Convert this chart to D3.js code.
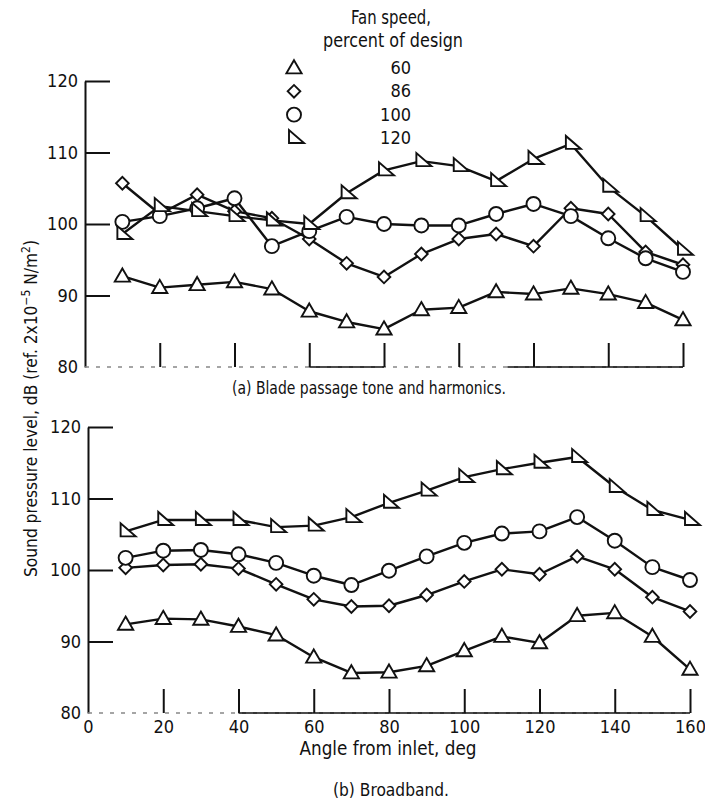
<!DOCTYPE html>
<html>
<head>
<meta charset="utf-8">
<script src="https://cdn.jsdelivr.net/npm/d3@7"></script>
<style>
  html, body { margin: 0; padding: 0; background: #fff; }
  svg text { font-family: "Liberation Sans Narrow", "DejaVu Sans Condensed", "Liberation Sans", sans-serif; fill: #111; }
</style>
</head>
<body>
<svg id="chart" width="705" height="803"></svg>
<script>
// ---------- data ----------
const angles = [10, 20, 30, 40, 50, 60, 70, 80, 90, 100, 110, 120, 130, 140, 150, 160];
const xTickValues = [0, 20, 40, 60, 80, 100, 120, 140, 160];
const yTickValues = [80, 90, 100, 110, 120];
const legendSpeeds = ["60", "86", "100", "120"];
const legendTitle = ["Fan speed,", "percent of design"];

// (a) Blade passage tone and harmonics
const toneSpeed60  = [92.7, 91.1, 91.5, 91.9, 90.9, 87.8, 86.3, 85.3, 88.0, 88.3, 90.5, 90.2, 91.0, 90.2, 89.0, 86.6];
const toneSpeed86  = [105.7, 101.4, 104.1, 101.8, 100.8, 97.9, 94.5, 92.6, 95.8, 97.9, 98.6, 96.9, 102.2, 101.4, 96.1, 94.3];
const toneSpeed100 = [100.3, 101.1, 102.2, 103.6, 96.9, 99.0, 101.0, 100.0, 99.8, 99.8, 101.4, 102.8, 101.1, 98.0, 95.2, 93.3];
const toneSpeed120 = [98.6, 102.5, 101.8, 101.1, 100.5, 100.0, 104.3, 107.5, 108.8, 108.1, 106.0, 109.1, 111.2, 105.2, 101.1, 96.4];

// (b) Broadband
const bbSpeed60  = [92.4, 93.2, 93.1, 92.1, 90.9, 87.8, 85.6, 85.7, 86.6, 88.7, 90.7, 89.8, 93.6, 94.0, 90.7, 86.1];
const bbSpeed86  = [100.3, 100.7, 100.8, 100.2, 98.0, 95.9, 94.9, 95.0, 96.5, 98.4, 100.1, 99.4, 101.9, 100.1, 96.2, 94.2];
const bbSpeed100 = [101.7, 102.7, 102.8, 102.2, 101.0, 99.2, 97.9, 99.9, 101.9, 103.8, 105.1, 105.4, 107.4, 104.1, 100.4, 98.6];
const bbSpeed120 = [105.4, 107.0, 107.0, 107.0, 106.0, 106.2, 107.4, 109.4, 111.1, 113.0, 114.1, 115.0, 115.8, 111.6, 108.4, 107.0];

const yLabel = "Sound pressure level, dB (ref. 2x10";
const xLabel = "Angle from inlet, deg";
const captionA = "(a) Blade passage tone and harmonics.";
const captionB = "(b) Broadband.";

// ---------- drawing ----------
const svg = d3.select("#chart");

const triPath = d3.symbol().type(d3.symbolTriangle).size(100)();
const diaPath = d3.symbol().type(d3.symbolSquare).size(80)();
const rightTriPath = "M-5,-8L-5,5L10,5Z";
const markerKinds = ["tri", "dia", "circ", "rtri"];

function drawMarker(g, kind, cx, cy) {
  const common = s => s.attr("fill", "#fff").attr("stroke", "#111").attr("stroke-width", 1.9);
  if (kind === "circ") {
    g.append("circle").attr("cx", cx).attr("cy", cy).attr("r", 7).call(common);
  } else if (kind === "dia") {
    g.append("path").attr("d", diaPath).attr("transform", `translate(${cx},${cy}) rotate(45)`).call(common);
  } else if (kind === "tri") {
    g.append("path").attr("d", triPath).attr("transform", `translate(${cx},${cy + 1})`).call(common);
  } else {
    g.append("path").attr("d", rightTriPath).attr("transform", `translate(${cx},${cy})`).call(common);
  }
}

function panel(cfg) {
  const x = d3.scaleLinear().domain([0, 160]).range(cfg.xRange);
  const y = d3.scaleLinear().domain([80, 120]).range(cfg.yRange);
  const g = svg.append("g");

  const yl = g.append("g").attr("transform", `translate(${cfg.xRange[0]},0)`)
    .call(d3.axisLeft(y).tickValues(yTickValues).tickSize(0).tickPadding(7));
  yl.select(".domain").attr("stroke", "#111").attr("stroke-width", 2);
  yl.selectAll("text").attr("font-size", 18).attr("font-family", "Liberation Sans Narrow, DejaVu Sans Condensed, sans-serif").attr("fill", "#111");

  const yr = g.append("g").attr("transform", `translate(${cfg.xRange[0]},0)`)
    .call(d3.axisRight(y).tickValues(yTickValues.slice(1)).tickSize(25).tickFormat(""));
  yr.select(".domain").remove();
  yr.selectAll("line").attr("stroke", "#111").attr("stroke-width", 2);

  const by = y(80);
  g.append("line").attr("x1", x(0)).attr("x2", x(160)).attr("y1", by).attr("y2", by)
    .attr("stroke", "#888").attr("stroke-width", 1.3).attr("stroke-dasharray", "4,7");
  cfg.solidBase.forEach(([a, b]) => {
    g.append("line").attr("x1", x(a)).attr("x2", x(b)).attr("y1", by).attr("y2", by)
      .attr("stroke", "#111").attr("stroke-width", 1.6);
  });

  const xt = g.append("g").attr("transform", `translate(0,${by})`)
    .call(d3.axisTop(x).tickValues(xTickValues.slice(1)).tickSize(24).tickFormat(""));
  xt.select(".domain").remove();
  xt.selectAll("line").attr("stroke", "#111").attr("stroke-width", 2);

  if (cfg.xLabels) {
    const xb = g.append("g").attr("transform", `translate(0,${by})`)
      .call(d3.axisBottom(x).tickValues(xTickValues).tickSize(0).tickPadding(7));
    xb.select(".domain").remove();
    xb.selectAll("text").attr("font-size", 18).attr("font-family", "Liberation Sans Narrow, DejaVu Sans Condensed, sans-serif").attr("fill", "#111");
  }

  const line = d3.line().x(d => x(d[0])).y(d => y(d[1]));
  cfg.series.forEach(vals => {
    const pts = angles.map((a, j) => [a, vals[j]]);
    g.append("path").attr("d", line(pts)).attr("fill", "none")
      .attr("stroke", "#111").attr("stroke-width", 2.4).attr("stroke-linejoin", "round");
  });
  cfg.series.forEach((vals, i) => {
    const mg = g.append("g");
    angles.forEach((a, j) => drawMarker(mg, markerKinds[i], x(a), y(vals[j])));
  });
}

panel({
  xRange: [85, 683], yRange: [367, 81],
  solidBase: [[60, 80], [113, 160]],
  xLabels: false,
  series: [toneSpeed60, toneSpeed86, toneSpeed100, toneSpeed120]
});
panel({
  xRange: [88, 690], yRange: [713, 427],
  solidBase: [[40, 160]],
  xLabels: true,
  series: [bbSpeed60, bbSpeed86, bbSpeed100, bbSpeed120]
});

function fitText(sel, len) {
  sel.attr("textLength", len).attr("lengthAdjust", "spacingAndGlyphs");
  return sel;
}

// legend
const leg = svg.append("g");
fitText(leg.append("text").attr("x", 391).attr("y", 24).attr("text-anchor", "middle")
  .attr("font-size", 19).text(legendTitle[0]), 80);
fitText(leg.append("text").attr("x", 393).attr("y", 47).attr("text-anchor", "middle")
  .attr("font-size", 19).text(legendTitle[1]), 140);
const legY = d3.scalePoint().domain(legendSpeeds).range([68, 138]);
legendSpeeds.forEach((s, i) => {
  drawMarker(leg, markerKinds[i], 294, legY(s));
  leg.append("text").attr("x", 411).attr("y", legY(s) + 6).attr("text-anchor", "end")
    .attr("font-size", 18).text(s);
});

// captions & axis titles
fitText(svg.append("text").attr("x", 369).attr("y", 394).attr("text-anchor", "middle")
  .attr("font-size", 18).text(captionA), 274);
fitText(svg.append("text").attr("x", 388).attr("y", 755).attr("text-anchor", "middle")
  .attr("font-size", 19).text(xLabel), 177);
fitText(svg.append("text").attr("x", 391).attr("y", 796).attr("text-anchor", "middle")
  .attr("font-size", 18).text(captionB), 116);

const yt = svg.append("text").attr("transform", "translate(37,577) rotate(-90)")
  .attr("text-anchor", "start").attr("font-size", 17.2);
yt.append("tspan").text(yLabel);
yt.append("tspan").attr("dy", -7).attr("font-size", 12).text("−5");
yt.append("tspan").attr("dy", 7).text(" N/m");
yt.append("tspan").attr("dy", -7).attr("font-size", 12).text("2");
yt.append("tspan").attr("dy", 7).text(")");
</script>
</body>
</html>
